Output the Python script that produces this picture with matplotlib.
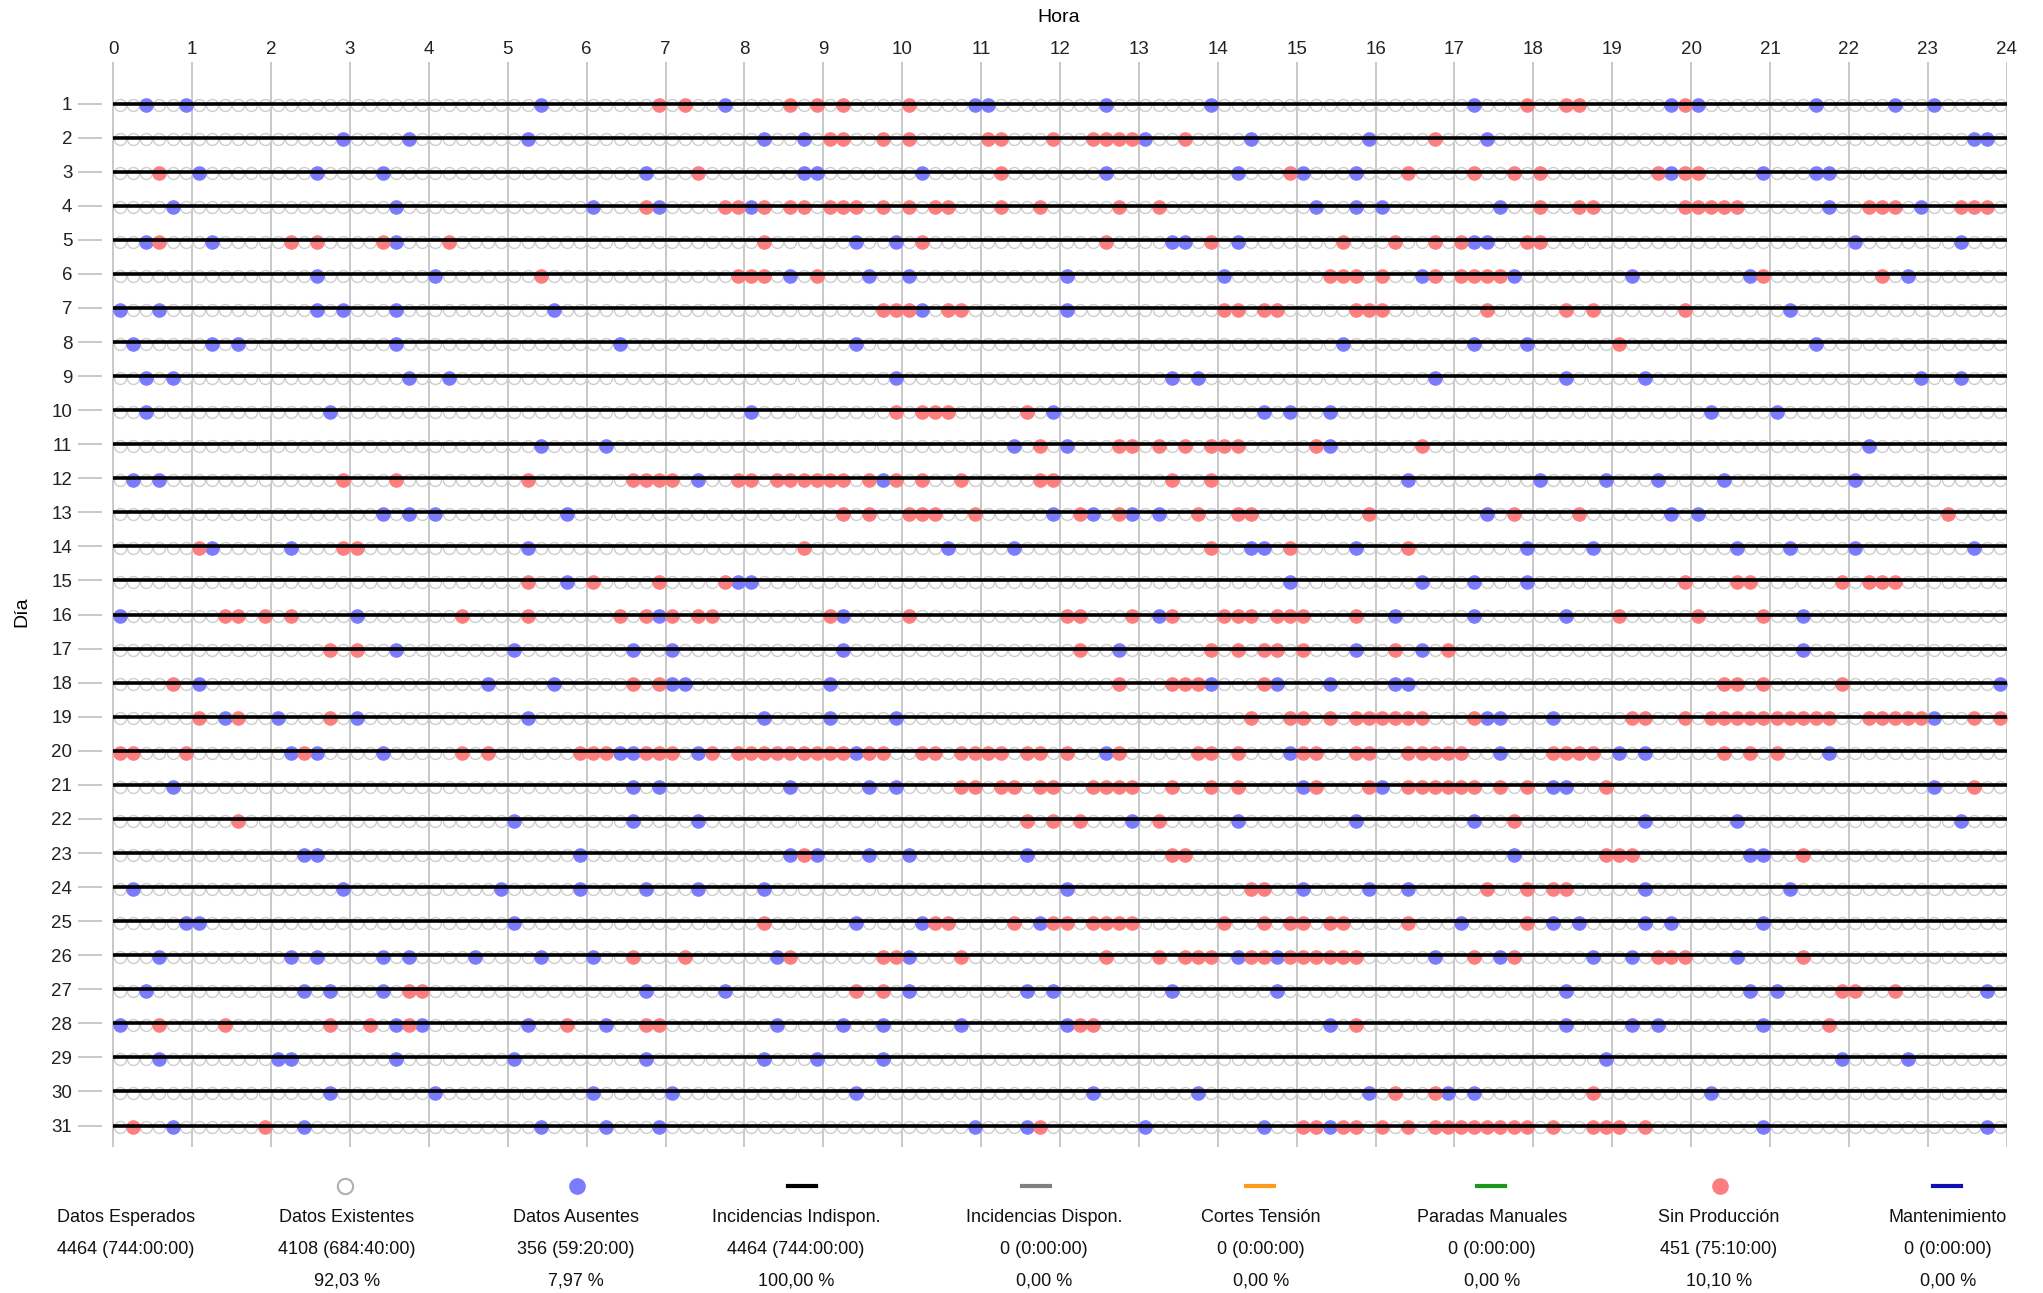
import matplotlib
matplotlib.use("Agg")
import matplotlib.pyplot as plt
from matplotlib.lines import Line2D

# slots de 10 minutos (0..143) con Datos Ausentes / Sin Producción, por día
days = list(range(1, 32))
hour_ticks = list(range(0, 25))
n_slots = 144

ausentes_slots = [
    [2, 5, 32, 46, 65, 66, 75, 83, 103, 118, 120, 129, 135, 138],
    [17, 22, 31, 49, 52, 78, 86, 95, 104, 141, 142],
    [6, 15, 20, 40, 52, 53, 61, 75, 85, 90, 94, 118, 125, 129, 130],
    [4, 21, 36, 41, 48, 91, 94, 96, 105, 130, 137],
    [2, 7, 21, 56, 59, 80, 81, 85, 103, 104, 132, 140],
    [15, 24, 51, 57, 60, 72, 84, 99, 106, 115, 124, 136],
    [0, 3, 15, 17, 21, 33, 61, 72, 127],
    [1, 7, 9, 21, 38, 56, 93, 103, 107, 129],
    [2, 4, 22, 25, 59, 80, 82, 100, 110, 116, 137, 140],
    [2, 16, 48, 71, 87, 89, 92, 121, 126],
    [32, 37, 68, 72, 92, 133],
    [1, 3, 44, 58, 98, 108, 113, 117, 122, 132],
    [20, 22, 24, 34, 71, 74, 77, 79, 104, 118, 120],
    [7, 13, 31, 63, 68, 86, 87, 94, 107, 112, 123, 127, 132, 141],
    [34, 47, 48, 89, 99, 103, 107],
    [0, 18, 41, 55, 79, 97, 103, 110, 128],
    [21, 30, 39, 42, 55, 76, 94, 99, 128],
    [6, 28, 33, 42, 43, 54, 83, 88, 92, 97, 98, 143],
    [8, 12, 18, 31, 49, 54, 59, 104, 105, 109, 138],
    [13, 15, 20, 38, 39, 44, 56, 75, 89, 105, 114, 116, 130],
    [4, 39, 41, 51, 57, 59, 90, 96, 109, 110, 138],
    [30, 39, 44, 77, 85, 94, 103, 116, 123, 140],
    [14, 15, 35, 51, 53, 57, 60, 69, 106, 124, 125],
    [1, 17, 29, 35, 40, 44, 49, 72, 90, 95, 98, 116, 127],
    [5, 6, 30, 56, 61, 70, 102, 109, 111, 116, 118, 125],
    [3, 13, 15, 20, 22, 27, 32, 36, 50, 60, 85, 88, 100, 105, 112, 115, 123],
    [2, 14, 16, 20, 40, 46, 60, 69, 71, 80, 88, 110, 124, 126, 142],
    [0, 21, 23, 31, 37, 50, 55, 58, 64, 72, 92, 110, 115, 117, 125],
    [3, 12, 13, 21, 30, 40, 49, 53, 58, 113, 131, 136],
    [16, 24, 36, 42, 56, 74, 82, 95, 101, 103, 121],
    [4, 14, 32, 37, 41, 65, 69, 78, 87, 92, 125, 142],
]

sin_prod_slots = [
    [41, 43, 51, 53, 55, 60, 107, 110, 111, 119],
    [54, 55, 58, 60, 66, 67, 71, 74, 75, 76, 77, 81, 100],
    [3, 44, 67, 89, 98, 103, 106, 108, 117, 119, 120],
    [40, 46, 47, 49, 51, 52, 54, 55, 56, 58, 60, 62, 63, 67, 70, 76, 79,
     108, 111, 112, 119, 120, 121, 122, 123, 133, 134, 135, 140, 141, 142],
    [3, 13, 15, 20, 25, 49, 61, 75, 83, 93, 97, 100, 102, 107, 108],
    [32, 47, 48, 49, 53, 92, 93, 94, 96, 100, 102, 103, 104, 105, 125, 134],
    [58, 59, 60, 63, 64, 84, 85, 87, 88, 94, 95, 96, 104, 110, 112, 119],
    [114],
    [],
    [59, 61, 62, 63, 69],
    [70, 76, 77, 79, 81, 83, 84, 85, 91, 99],
    [17, 21, 31, 39, 40, 41, 42, 47, 48, 50, 51, 52, 53, 54, 55, 57, 59,
     61, 64, 70, 71, 80, 83],
    [55, 57, 60, 61, 62, 65, 73, 76, 82, 85, 86, 95, 106, 111, 139],
    [6, 17, 18, 52, 83, 89, 98],
    [31, 36, 41, 46, 119, 123, 124, 131, 133, 134, 135],
    [8, 9, 11, 13, 26, 31, 38, 40, 42, 44, 45, 54, 60, 72, 73, 77, 80, 84,
     85, 86, 88, 89, 90, 94, 114, 120, 125],
    [16, 18, 73, 83, 85, 87, 88, 90, 97, 101],
    [4, 39, 41, 76, 80, 81, 82, 87, 122, 123, 125, 131],
    [6, 9, 16, 86, 89, 90, 92, 94, 95, 96, 97, 98, 99, 103, 115, 116, 119,
     121, 122, 123, 124, 125, 126, 127, 128, 129, 130, 133, 134, 135, 136,
     137, 141, 143],
    [0, 1, 5, 14, 26, 28, 35, 36, 37, 40, 41, 42, 45, 47, 48, 49, 50, 51,
     52, 53, 54, 55, 57, 58, 61, 62, 64, 65, 66, 67, 69, 70, 72, 76, 82, 83,
     85, 90, 91, 94, 95, 98, 99, 100, 101, 102, 109, 110, 111, 112, 122,
     124, 126],
    [64, 65, 67, 68, 70, 71, 74, 75, 76, 77, 80, 83, 85, 91, 95, 98, 99,
     100, 101, 102, 103, 105, 107, 113, 141],
    [9, 69, 71, 73, 79, 106],
    [52, 80, 81, 113, 114, 115, 128],
    [86, 87, 104, 107, 109, 110],
    [49, 62, 63, 68, 71, 72, 74, 75, 76, 77, 84, 87, 89, 90, 92, 93, 98, 107],
    [39, 43, 51, 58, 59, 64, 75, 79, 81, 82, 83, 86, 87, 89, 90, 91, 92, 93,
     94, 103, 106, 117, 118, 119, 128],
    [22, 23, 56, 58, 131, 132, 135],
    [3, 8, 16, 19, 22, 34, 40, 41, 73, 74, 94, 130],
    [],
    [97, 100, 112],
    [1, 11, 70, 90, 91, 93, 94, 96, 98, 100, 101, 102, 103, 104, 105, 106,
     107, 109, 112, 113, 114, 116],
]

legend_names = ["Datos Esperados", "Datos Existentes", "Datos Ausentes",
                "Incidencias Indispon.", "Incidencias Dispon.", "Cortes Tensión",
                "Paradas Manuales", "Sin Producción", "Mantenimiento"]
legend_counts = ["4464 (744:00:00)", "4108 (684:40:00)", "356 (59:20:00)",
                 "4464 (744:00:00)", "0 (0:00:00)", "0 (0:00:00)",
                 "0 (0:00:00)", "451 (75:10:00)", "0 (0:00:00)"]
legend_pcts = ["", "92,03 %", "7,97 %", "100,00 %", "0,00 %", "0,00 %",
               "0,00 %", "10,10 %", "0,00 %"]

BLUE = "#7b7bfd"
RED = "#fd7e7e"
GREY = "#c4c4c4"
FS = 13.5
LEG_FS = 13

W, H = 2043, 1293
plt.rcParams["font.family"] = ["Liberation Sans", "DejaVu Sans"]
fig = plt.figure(figsize=(W / 100, H / 100), dpi=100)


def fx(px):
    return px / W


def fy(py):
    return 1 - py / H


ax = fig.add_axes([fx(101.5), fy(1147), fx(2006.7) - fx(101.5), fy(62) - fy(1147)])
ax.set_xlim(-0.15, 24)
ax.set_ylim(31.63, -0.22)

for h in hour_ticks:
    ax.axvline(h, color=GREY, lw=1.3, zorder=1)

slot_hours = [(k + 0.5) / 6 for k in range(n_slots)]
for i, d in enumerate(days):
    aus = set(ausentes_slots[i])
    xs = [slot_hours[k] for k in range(n_slots) if k not in aus]
    ax.plot(xs, [d + 0.05] * len(xs), ls="none", marker="o", ms=8.6,
            mfc="white", mec="#cdcdcd", mew=1.0, zorder=2)
    ax.plot([slot_hours[k] for k in ausentes_slots[i]], [d + 0.05] * len(aus),
            ls="none", marker="o", ms=10.5, mfc=BLUE, mec="none", zorder=3)
    ax.plot([slot_hours[k] for k in sin_prod_slots[i]],
            [d + 0.05] * len(sin_prod_slots[i]),
            ls="none", marker="o", ms=10.5, mfc=RED, mec="none", zorder=3)
    ax.plot([0, 24], [d, d], color="black", lw=2.6, zorder=4,
            solid_capstyle="butt")

for s in ax.spines.values():
    s.set_visible(False)

ax.xaxis.tick_top()
ax.set_xticks(hour_ticks)
ax.set_xticklabels([str(h) for h in hour_ticks], fontsize=FS, color="#222222")
ax.tick_params(axis="x", length=0, pad=3)
ax.set_yticks(days)
ax.set_yticklabels([str(d) for d in days], fontsize=FS, color="#222222")
ax.tick_params(axis="y", length=17, width=1.3, color=GREY, pad=4)

fig.text(fx(1059), fy(18), "Hora", ha="center", va="center", fontsize=FS + 0.5)
fig.text(fx(22), fy(612), "Día", ha="center", va="center", rotation=90,
         fontsize=FS + 0.5)

# leyenda inferior
col_x = [126, 347, 576, 796, 1044, 1261, 1492, 1719, 1948]
sym_x = [None, 345, 577, 802, 1036, 1260, 1491, 1720, 1947]
sym_y = 1186
for j, name in enumerate(legend_names):
    fig.text(fx(col_x[j]), fy(1218), name, ha="center", va="center",
             fontsize=LEG_FS, color="#111111")
    fig.text(fx(col_x[j]), fy(1249), legend_counts[j], ha="center",
             va="center", fontsize=LEG_FS, color="#111111")
    if legend_pcts[j]:
        fig.text(fx(col_x[j]), fy(1281), legend_pcts[j], ha="center",
                 va="center", fontsize=LEG_FS, color="#111111")

line_colors = {3: "black", 4: "#808080", 5: "#ff9a1a", 6: "#1a9a1a", 8: "#1010b0"}
for j, c in line_colors.items():
    fig.add_artist(Line2D([fx(sym_x[j] - 14), fx(sym_x[j] + 14)],
                          [fy(sym_y), fy(sym_y)], color=c, lw=3,
                          transform=fig.transFigure))
fig.add_artist(Line2D([fx(sym_x[1])], [fy(sym_y)], marker="o", ms=11,
                      mfc="white", mec="#b0b0b0", mew=1.5, ls="none",
                      transform=fig.transFigure))
fig.add_artist(Line2D([fx(sym_x[2])], [fy(sym_y)], marker="o", ms=12,
                      mfc=BLUE, mec="none", ls="none", transform=fig.transFigure))
fig.add_artist(Line2D([fx(sym_x[7])], [fy(sym_y)], marker="o", ms=12,
                      mfc=RED, mec="none", ls="none", transform=fig.transFigure))

fig.savefig("out.png", dpi=100)
